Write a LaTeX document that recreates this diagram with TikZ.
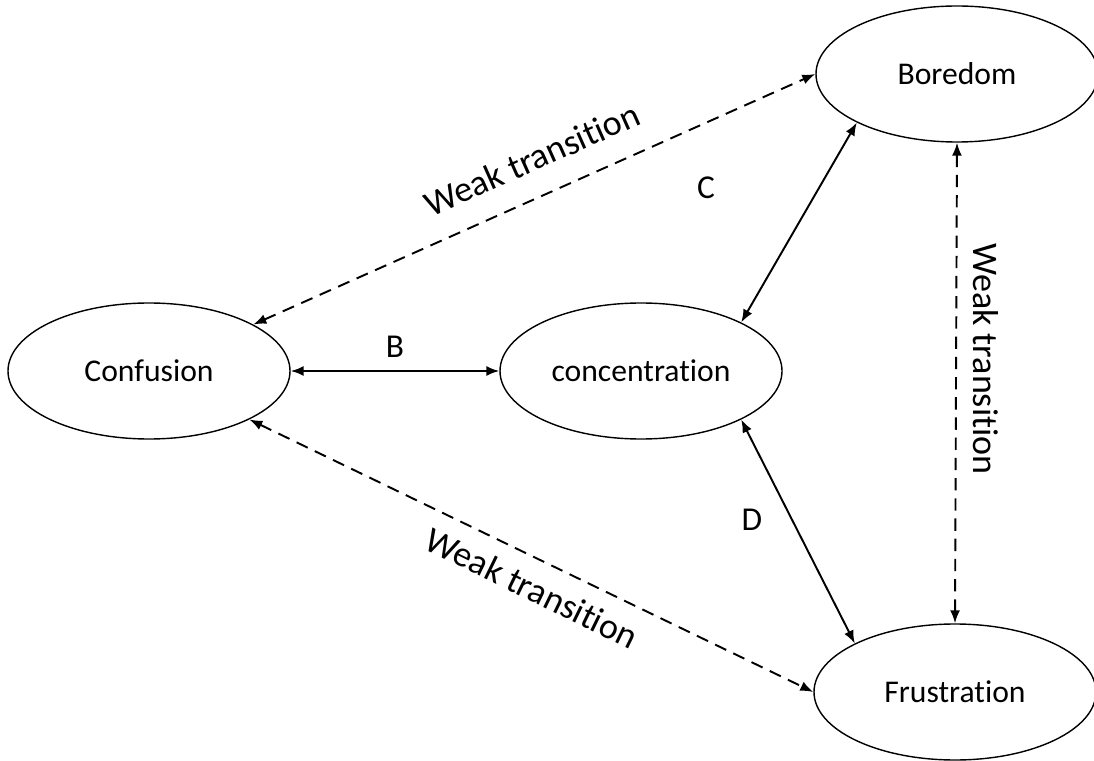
\documentclass[tikz,border=0pt]{standalone}
\usepackage{fontspec}
\setmainfont{Carlito}[Ligatures=NoCommon]
\usepackage{tikz}
\usetikzlibrary{shapes.geometric, arrows.meta}

\begin{document}
\begin{tikzpicture}[
        emo/.style={ellipse, draw=black, line width=0.8pt, minimum width=5.64cm, minimum height=2.72cm, inner sep=0pt, font=\fontsize{18}{22}\selectfont},
        tag/.style={font=\fontsize{19}{23}\selectfont},
        lbl/.style={font=\fontsize{20.5}{24}\selectfont},
        strong/.style={<->, >={Latex[length=2.6mm, width=2mm]}, line width=1.1pt, black},
        weak/.style={strong, dash pattern=on 7pt off 4.5pt}
    ]
        \useasboundingbox (0, 0) rectangle (21.88, -15.22);

        % the four states
        \node[emo] (conf) at (2.98, -7.42) {Confusion};
        \node[emo] (conc) at (12.82, -7.42) {concentration};
        \node[emo] (bored) at (19.14, -1.48) {Boredom};
        \node[emo] (frus) at (19.10, -13.84) {Frustration};

        % strong transitions
        \draw[strong] (conf) -- (conc);
        \draw[strong] (conc.north east) -- (bored.south west);
        \draw[strong] (conc.south east) -- (frus.north west);
        \node[tag] (lblB) at (7.90, -6.94) {B};
        \node[tag] (lblC) at (14.12, -3.76) {C};
        \node[tag] (lblD) at (15.04, -10.40) {D};

        % weak transitions
        \draw[weak] (conf) -- (bored.west);
        \draw[weak] (conf) -- (frus.west);
        \draw[weak] (bored.south) -- (frus.north);
        \node[lbl, rotate=24] (weak1) at (10.64, -3.18) {Weak transition};
        \node[lbl, rotate=-26] (weak2) at (10.64, -11.76) {Weak transition};
        \node[lbl, rotate=-90] (weak3) at (19.72, -7.18) {Weak transition};
    \end{tikzpicture}
\end{document}
